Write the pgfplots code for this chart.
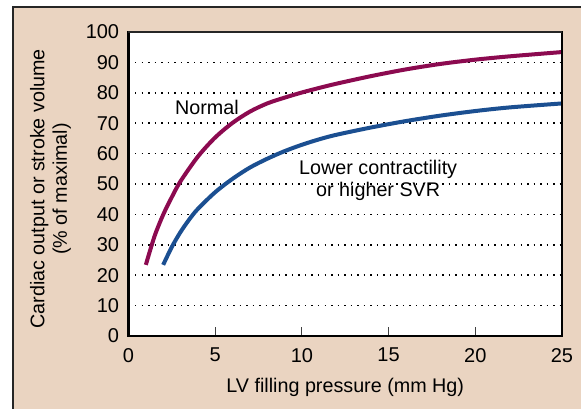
\documentclass[border=0pt]{standalone}
\usepackage{pgfplots}
\pgfplotsset{compat=1.18}
\usepackage{fontspec}
\setmainfont{Liberation Sans}

\definecolor{panelbg}{HTML}{EAD4C1}
\definecolor{normalcol}{HTML}{8C0A50}
\definecolor{lowercol}{HTML}{1B4F91}

\begin{document}
\begin{tikzpicture}
% panel background and its frame (top and left edges only)
\fill[white] (-96.375pt,-54.75pt) rectangle (339.375pt,252pt);
\fill[panelbg] (-86.625pt,-54.75pt) rectangle (339.375pt,246.75pt);
\draw[line width=1.1pt, black!85] (-86.625pt,-54.75pt) -- (-86.625pt,246.75pt) -- (339.375pt,246.75pt);

\begin{axis}[
    at={(0,0)}, anchor=south west,
    scale only axis,
    width=325.1pt, height=228pt,
    clip=false,
    xmin=0, xmax=25,
    ymin=0, ymax=100,
    xtick={0,5,...,25},
    ytick={0,10,...,100},
    xtick pos=bottom, ytick pos=left,
    tick align=inside,
    major tick length=6.75pt,
    xtick style={line width=0.8pt, black!75},
    ytick style={draw=none},
    axis line style={draw=none},
    axis background/.style={fill=white},
    ymajorgrids=true,
    grid style={black, line width=1.1pt, dash pattern=on 1.1pt off 3.8pt},
    /pgf/number format/assume math mode=true,
    xticklabel style={font=\fontsize{15}{17}\selectfont},
    yticklabel style={font=\fontsize{15}{17}\selectfont},
    xticklabel shift=5.5pt,
    yticklabel shift=3.5pt,
    xlabel={LV filling pressure (mm Hg)},
    xlabel style={font=\fontsize{14.8}{17}\selectfont, at={(axis description cs:0.5,0)}, anchor=base, yshift=-42.75pt},
]

\addplot[color=normalcol, line width=3pt, smooth]
    coordinates {
    (1,23.4)(1.5,32.8)(2,39.9)(2.5,45.7)(3,50.9)(4,59.0)(5,65.3)(6,70.1)(7,73.8)(8,76.5)(9,78.4)(10,80.1)
    (11,81.6)(12,83.0)(14,85.5)(16,87.7)(18,89.5)(20,90.9)(22,92.0)(25,93.4)
    };
\addplot[color=lowercol, line width=3pt, smooth]
    coordinates {
    (2,23.4)(2.5,29.3)(3,34.2)(3.5,38.3)(4,41.8)(5,47.3)(6,51.7)(7,55.4)(8,58.3)(9,60.8)(10,62.9)
    (11,64.7)(12,66.2)(14,68.6)(16,70.7)(18,72.5)(20,74.0)(22,75.2)(25,76.5)
    };

% frame of the plot area
\draw[line width=2.2pt, black, line cap=rect] (rel axis cs:0,1) -- (rel axis cs:0,0) -- (rel axis cs:1,0) -- (rel axis cs:1,1);
\draw[line width=1.3pt, black!85] (rel axis cs:0,1) -- (rel axis cs:1,1);

\node[font=\fontsize{14.8}{17}\selectfont] at (axis cs:4.52,75.2) {Normal};
\node[font=\fontsize{14.8}{16.3}\selectfont, align=center] at (axis cs:14.4,51.2) {Lower contractility\\ or higher SVR};
\node[font=\fontsize{14.8}{17}\selectfont, align=center, rotate=90] at (axis description cs:-0.18,0.484) {Cardiac output or stroke volume\\(\% of maximal)};
\end{axis}

\pgfresetboundingbox
\path[use as bounding box] (-96.375pt,-54.75pt) rectangle (339.375pt,252pt);
\end{tikzpicture}
\end{document}
